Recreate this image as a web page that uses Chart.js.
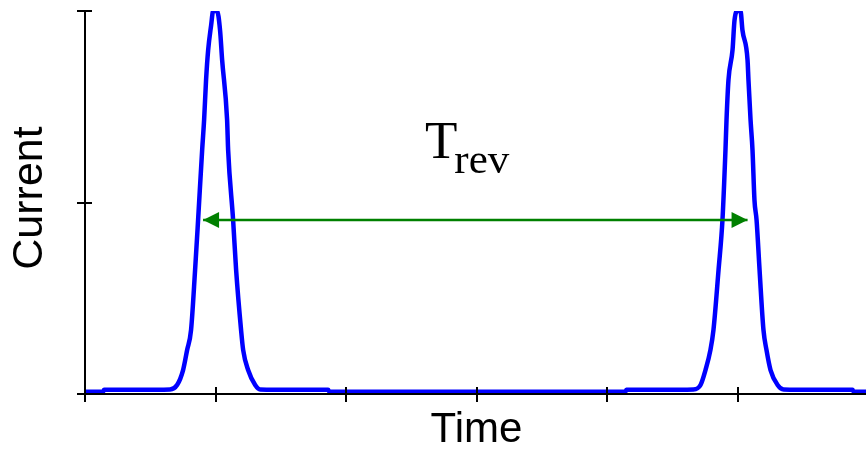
<!DOCTYPE html>
<html>
<head>
<meta charset="utf-8">
<script src="https://cdn.jsdelivr.net/npm/chart.js@4"></script>
<style>
  html, body { margin: 0; padding: 0; background: #ffffff; }
  #wrap { width: 866px; height: 455px; position: relative; }
</style>
</head>
<body>
<div id="wrap"><canvas id="c" width="866" height="455"></canvas></div>
<script>
// ---- Data (time in tick units, current in arbitrary units) ----
const timeVals = [
  0.00, 0.14, 0.145, 0.40, 0.651, 0.705, 0.751, 0.782, 0.812, 0.843, 0.866, 0.897, 0.912, 0.927, 0.943, 0.966, 0.981,
  1.011, 1.034, 1.050, 1.088, 1.096, 1.134, 1.157, 1.195, 1.211, 1.249, 1.303, 1.341, 1.60, 1.862, 1.87,
  3.00, 4.138, 4.145, 4.40, 4.659, 4.713, 4.751, 4.789, 4.812, 4.851, 4.881, 4.904, 4.912, 4.927, 4.958, 4.973, 4.996,
  5.019, 5.034, 5.073, 5.080, 5.096, 5.111, 5.126, 5.142, 5.165, 5.195, 5.218, 5.249, 5.303, 5.349, 5.60, 5.877, 5.885, 5.98
];
const currentVals = [
  0.012, 0.012, 0.022, 0.022, 0.024, 0.047, 0.125, 0.23, 0.334, 0.648, 0.909, 1.274, 1.431, 1.64, 1.796, 1.927, 2.0,
  2.0, 1.90, 1.744, 1.431, 1.274, 0.909, 0.648, 0.334, 0.23, 0.125, 0.047, 0.024, 0.022, 0.022, 0.012,
  0.012, 0.012, 0.022, 0.022, 0.024, 0.047, 0.125, 0.23, 0.334, 0.648, 0.909, 1.274, 1.431, 1.64, 1.796, 1.95, 2.0,
  2.0, 1.90, 1.744, 1.64, 1.431, 1.274, 1.013, 0.909, 0.648, 0.334, 0.23, 0.125, 0.047, 0.024, 0.022, 0.022, 0.012, 0.012
];
// Revolution-period arrow (from first peak to second peak)
const arrowTime = [0.904, 5.073];
const arrowCurrent = [0.909, 0.909];
// Axis ticks
const xTicks = [0, 1, 2, 3, 4, 5];
const yTicks = [0, 1, 2];
const xLabel = "Time";
const yLabel = "Current";
const periodLabelMain = "T";
const periodLabelSub = "rev";

const curveData = timeVals.map((t, i) => ({ x: t, y: currentVals[i] }));
const arrowData = arrowTime.map((t, i) => ({ x: t, y: arrowCurrent[i] }));

const decorPlugin = {
  id: 'decor',
  afterDatasetsDraw(chart) {
    const ctx = chart.ctx;
    const xs = chart.scales.x, ys = chart.scales.y;
    const ca = chart.chartArea;
    ctx.save();
    // arrow heads
    ctx.fillStyle = '#008000';
    const yA = ys.getPixelForValue(arrowCurrent[0]);
    const xL = xs.getPixelForValue(arrowTime[0]);
    const xR = xs.getPixelForValue(arrowTime[1]);
    ctx.beginPath();
    ctx.moveTo(xL, yA); ctx.lineTo(xL + 16, yA - 8); ctx.lineTo(xL + 16, yA + 8); ctx.closePath(); ctx.fill();
    ctx.beginPath();
    ctx.moveTo(xR, yA); ctx.lineTo(xR - 16, yA - 8); ctx.lineTo(xR - 16, yA + 8); ctx.closePath(); ctx.fill();

    // axis lines
    ctx.strokeStyle = '#000000';
    ctx.lineWidth = 2;
    ctx.beginPath();
    ctx.moveTo(ca.left, ca.top); ctx.lineTo(ca.left, ca.bottom);
    ctx.moveTo(ca.left, ca.bottom); ctx.lineTo(ca.right + 2, ca.bottom);
    ctx.stroke();
    // crossing ticks
    ctx.beginPath();
    yTicks.forEach(v => {
      const p = Math.round(ys.getPixelForValue(v));
      ctx.moveTo(ca.left - 8, p); ctx.lineTo(ca.left + 7, p);
    });
    xTicks.forEach(v => {
      const p = Math.round(xs.getPixelForValue(v));
      ctx.moveTo(p, ca.bottom - 7); ctx.lineTo(p, ca.bottom + 8);
    });
    ctx.stroke();

    // texts
    ctx.fillStyle = '#000000';
    ctx.font = '42px "Liberation Sans", Arial, sans-serif';
    ctx.textAlign = 'center';
    ctx.textBaseline = 'alphabetic';
    ctx.fillText(xLabel, (ca.left + ca.right) / 2 + 1, 442);
    ctx.save();
    ctx.translate(42, 198);
    ctx.rotate(-Math.PI / 2);
    ctx.font = '43px "Liberation Sans", Arial, sans-serif';
    ctx.fillText(yLabel, 0, 0);
    ctx.restore();

    ctx.textAlign = 'left';
    ctx.font = '53px "Liberation Serif", "Times New Roman", serif';
    ctx.fillText(periodLabelMain, 425, 158);
    const tw = ctx.measureText(periodLabelMain).width;
    ctx.font = '43px "Liberation Serif", "Times New Roman", serif';
    ctx.fillText(periodLabelSub, 425 + tw - 3, 173);
    ctx.restore();
  }
};

new Chart(document.getElementById('c'), {
  type: 'line',
  data: {
    datasets: [
      {
        data: arrowData,
        borderColor: '#008000',
        borderWidth: 2.5,
        pointRadius: 0,
        fill: false,
        order: 0
      },
      {
        data: curveData,
        borderColor: '#0000ff',
        borderWidth: 4.5,
        pointRadius: 0,
        fill: false,
        cubicInterpolationMode: 'monotone',
        borderJoinStyle: 'round',
        borderCapStyle: 'round',
        order: 1
      }
    ]
  },
  options: {
    responsive: false,
    animation: false,
    devicePixelRatio: 1,
    layout: { padding: { left: 85, top: 11, right: 0, bottom: 61 } },
    plugins: { legend: { display: false }, tooltip: { enabled: false } },
    scales: {
      x: {
        type: 'linear', min: 0, max: 5.98,
        ticks: { display: false, stepSize: 1 },
        grid: { display: false, drawTicks: false },
        border: { display: false }
      },
      y: {
        type: 'linear', min: 0, max: 2,
        ticks: { display: false, stepSize: 1 },
        grid: { display: false, drawTicks: false },
        border: { display: false }
      }
    }
  },
  plugins: [decorPlugin]
});
</script>
</body>
</html>
